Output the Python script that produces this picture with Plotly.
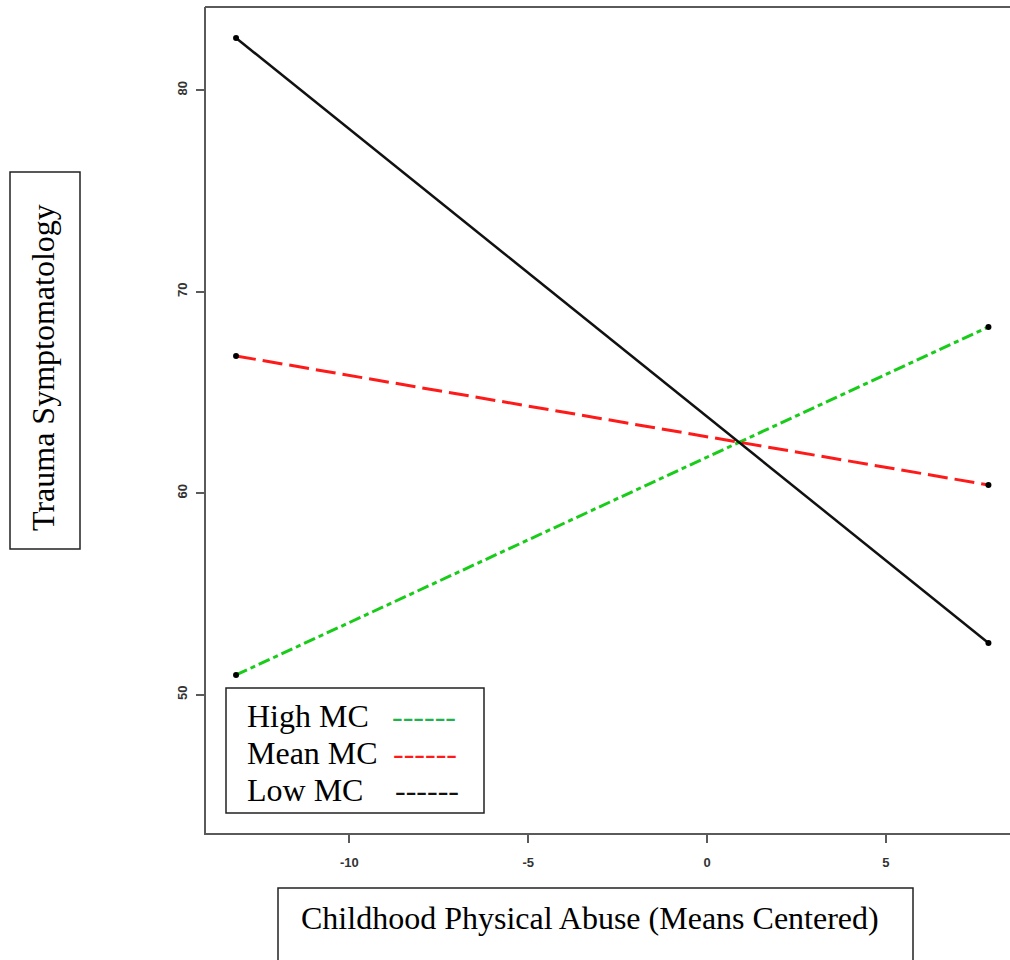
import plotly.graph_objects as go

W, H = 1010, 960

# Predictor values (means-centered) at which the simple slopes are evaluated
abuse = [-13.17, 7.87]

# Predicted trauma symptomatology for each level of the moderator
high_mc = [50.98, 68.25]
mean_mc = [66.81, 60.41]
low_mc = [82.59, 52.57]

series_names = ["High MC", "Mean MC", "Low MC"]
x_ticks = [-10, -5, 0, 5]
x_tick_text = ["-10", "-5", "0", "5"]
y_ticks = [50, 60, 70, 80]
y_tick_text = ["50", "60", "70", "80"]

x_title = "Childhood Physical Abuse (Means Centered)"
y_title = "Trauma Symptomatology"


def px(x):
    return x / W


def py(y):
    return 1 - y / H


SERIF = "Liberation Serif, Times New Roman, serif"
FRAME = "#5a5a5a"

fig = go.Figure()

line_styles = [
    (high_mc, "#19cc19", "12px,4px,5px,4px", 3),
    (mean_mc, "#ff1a1a", "20px,7px", 3),
    (low_mc, "#111111", "solid", 2.5),
]
for name, (vals, color, dash, width) in zip(series_names, line_styles):
    fig.add_trace(go.Scatter(
        x=abuse, y=vals, name=name, mode="lines+markers",
        line=dict(color=color, width=width, dash=dash),
        marker=dict(color="black", size=6),
        showlegend=False,
    ))

tick_font = dict(family="Liberation Sans, Arial, sans-serif", size=13,
                 color="#333333", weight="bold")

fig.update_layout(
    width=W, height=H,
    margin=dict(l=0, r=0, t=0, b=0),
    paper_bgcolor="white", plot_bgcolor="white",
    xaxis=dict(
        domain=[px(206), 1.0],
        range=[-14.01, 8.473],
        tickvals=x_ticks, ticktext=x_tick_text,
        ticks="outside", ticklen=8, tickwidth=1.5, tickcolor=FRAME,
        showline=True, linecolor=FRAME, linewidth=2, mirror=False,
        showgrid=False, zeroline=False,
        tickfont=tick_font, ticklabelstandoff=8,
    ),
    yaxis=dict(
        domain=[py(833), py(7)],
        range=[43.137, 84.129],
        tickvals=y_ticks, ticktext=y_tick_text, tickangle=-90,
        ticks="outside", ticklen=8, tickwidth=1.5, tickcolor=FRAME,
        showline=True, linecolor=FRAME, linewidth=2, mirror=False,
        showgrid=False, zeroline=False,
        tickfont=tick_font, ticklabelstandoff=4,
    ),
)

shapes = [
    # top edge of the plot frame
    dict(type="line", xref="paper", yref="paper",
         x0=px(205), x1=1.0, y0=py(7), y1=py(7),
         line=dict(color=FRAME, width=2)),
    # y-axis title box
    dict(type="rect", xref="paper", yref="paper",
         x0=px(10), x1=px(80), y0=py(549), y1=py(172),
         line=dict(color="#222222", width=1.5)),
    # x-axis title box
    dict(type="rect", xref="paper", yref="paper",
         x0=px(278), x1=px(913), y0=py(975), y1=py(888),
         line=dict(color="#222222", width=1.5)),
    # legend box
    dict(type="rect", xref="paper", yref="paper",
         x0=px(226), x1=px(484), y0=py(813), y1=py(688),
         line=dict(color="#222222", width=1.5), fillcolor="white"),
]
fig.update_layout(shapes=shapes)

annotations = [
    dict(text=y_title, x=px(43), y=py(368), textangle=-90,
         xref="paper", yref="paper",
         xanchor="center", yanchor="middle", showarrow=False,
         font=dict(family=SERIF, size=32, color="black")),
    dict(text=x_title, x=px(299), y=py(918),
         xref="paper", yref="paper",
         xanchor="left", yanchor="middle", showarrow=False,
         font=dict(family=SERIF, size=32, color="black")),
]

legend_rows = [716, 753, 790]
legend_colors = ["#21b24b", "#ff1a1a", "#111111"]
legend_x = [390, 391, 393]
for name, yy, col, lx in zip(series_names, legend_rows, legend_colors, legend_x):
    annotations.append(dict(text=name, x=px(245), y=py(yy),
                            xref="paper", yref="paper",
                            xanchor="left", yanchor="middle", showarrow=False,
                            font=dict(family=SERIF, size=32, color="black")))
    annotations.append(dict(text="------", x=px(lx), y=py(yy),
                            xref="paper", yref="paper",
                            xanchor="left", yanchor="middle", showarrow=False,
                            font=dict(family=SERIF, size=32, color=col)))
fig.update_layout(annotations=annotations)

fig.write_html("out.html")
